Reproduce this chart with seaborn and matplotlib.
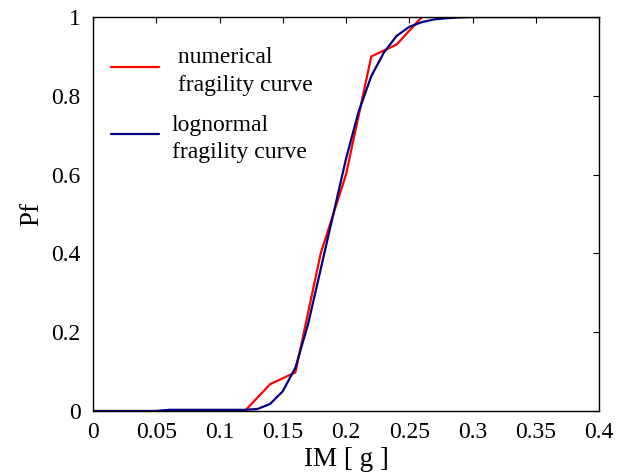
import numpy as np
import pandas as pd
import matplotlib
matplotlib.use("Agg")
import matplotlib.pyplot as plt
import seaborn as sns

# Numerical fragility curve
num_im = [0.00, 0.02, 0.04, 0.06, 0.08, 0.10, 0.12, 0.14, 0.16, 0.18, 0.20,
          0.22, 0.24, 0.26, 0.28, 0.30, 0.32, 0.34, 0.36, 0.38, 0.40]
num_pf = [0.0, 0.0, 0.0, 0.0, 0.0, 0.0, 0.0, 0.068, 0.098, 0.40, 0.60,
          0.90, 0.93, 1.0, 1.0, 1.0, 1.0, 1.0, 1.0, 1.0, 1.0]

# Lognormal fragility curve
logn_im = [0.00, 0.05, 0.06, 0.12, 0.13, 0.14, 0.15, 0.16, 0.17, 0.18, 0.19,
           0.20, 0.21, 0.22, 0.23, 0.24, 0.25, 0.26, 0.27, 0.28, 0.29, 0.30, 0.40]
logn_pf = [0.0, 0.0, 0.003, 0.003, 0.005, 0.018, 0.05, 0.11, 0.22, 0.36, 0.50,
           0.64, 0.76, 0.85, 0.91, 0.952, 0.975, 0.987, 0.994, 0.997, 0.999, 1.0, 1.0]

x_ticks = [0, 0.05, 0.1, 0.15, 0.2, 0.25, 0.3, 0.35, 0.4]
x_tick_labels = ["0", "0.05", "0.1", "0.15", "0.2", "0.25", "0.3", "0.35", "0.4"]
y_ticks = [0, 0.2, 0.4, 0.6, 0.8, 1.0]
y_tick_labels = ["0", "0.2", "0.4", "0.6", "0.8", "1"]

sns.set_theme(style="white")
plt.rcParams['font.family'] = ['Liberation Serif', 'DejaVu Serif']
plt.rcParams['text.color'] = 'black'
plt.rcParams['axes.labelcolor'] = 'black'

fig = plt.figure(figsize=(6.3, 4.73), dpi=100)
ax = fig.add_axes([93 / 630, 1 - 411 / 473, (599 - 93) / 630, (411 - 17) / 473])

df_num = pd.DataFrame({"IM": num_im, "Pf": num_pf})
df_log = pd.DataFrame({"IM": logn_im, "Pf": logn_pf})

sns.lineplot(data=df_num, x="IM", y="Pf", ax=ax, color="#ff0000", linewidth=1.6,
             label=" numerical\n fragility curve")
sns.lineplot(data=df_log, x="IM", y="Pf", ax=ax, color="#000080", linewidth=1.6,
             label="lognormal\nfragility curve")

ax.set_xlim(0, 0.4)
ax.set_ylim(0, 1)
ax.set_xticks(x_ticks)
ax.set_xticklabels(x_tick_labels)
ax.set_yticks(y_ticks)
ax.set_yticklabels(y_tick_labels)
ax.tick_params(direction="in", top=True, right=True, length=4, width=0.8,
               labelsize=17, colors="black")
ax.tick_params(axis="x", pad=8)
ax.tick_params(axis="y", pad=9)
for s in ax.spines.values():
    s.set_color("black")
    s.set_linewidth(1.0)

ax.set_xlabel("IM [ g ]", fontsize=19.5, labelpad=3)
ax.set_ylabel("Pf", fontsize=19.5, labelpad=5)

leg = ax.legend(loc="upper left", bbox_to_anchor=(-0.007, 0.977), frameon=False,
                fontsize=17, handlelength=2.03, handletextpad=0.55,
                labelspacing=0.8, borderpad=0.4)
for t in leg.get_texts():
    t.set_linespacing(1.4)
# nudge each legend line slightly up beside its two-line label
for h in leg.legend_handles:
    h.set_ydata(np.asarray(h.get_ydata()) + 3)

fig.savefig("out.png", dpi=100, facecolor="white")
